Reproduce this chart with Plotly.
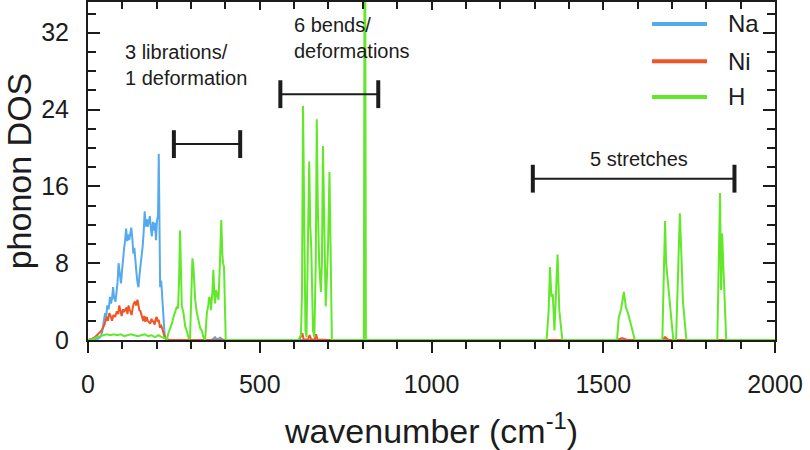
import plotly.graph_objects as go

# ---------------- data ----------------
na_x = [0, 20, 30, 38, 42, 46, 50, 53, 56, 60, 64, 67, 70, 73, 76, 80, 83, 86, 89, 92,
        96, 99, 102, 105, 108, 111, 114, 117, 120, 123, 126, 129, 132, 135, 138, 141, 144,
        147, 150, 153, 156, 159, 162, 165, 168, 171, 174, 177, 180, 183, 186, 189, 192, 195,
        198, 201, 204, 206, 208, 210, 213, 216, 218, 220, 223, 227, 235, 360, 370, 375, 385,
        392, 400, 2000]
na_y = [0, 0.05, 0.15, 0.4, 1.0, 2.0, 2.8, 2.4, 3.6, 3.2, 4.5, 3.8, 4.3, 5.5, 4.4, 4.0, 4.9,
        6.0, 8.0, 6.8, 5.9, 7.2, 8.7, 9.5, 10.4, 11.6, 10.3, 11.0, 10.4, 11.4, 11.7, 10.6, 9.0,
        9.6, 7.6, 7.0, 6.0, 5.5, 6.8, 7.6, 8.6, 9.7, 11.2, 13.4, 11.8, 12.6, 11.8, 12.5, 12.9,
        11.6, 10.8, 12.3, 11.4, 12.2, 10.4, 12.5, 13.0, 19.4, 12.0, 5.5, 6.2, 4.2, 3.0, 1.4,
        0.6, 0.1, 0, 0, 0.3, 0.05, 0.25, 0.05, 0, 0]

ni_x = [0, 10, 20, 30, 40, 48, 54, 58, 62, 66, 70, 74, 79, 84, 88, 91, 95, 98, 102, 105,
        108, 112, 115, 118, 121, 124, 127, 130, 133, 137, 140, 144, 147, 150, 152, 156, 159,
        161, 164, 167, 171, 174, 178, 181, 185, 188, 190, 194, 197, 200, 203, 206, 209, 213,
        216, 218, 221, 224, 228, 240, 615, 624, 628, 640, 645, 650, 660, 664, 668, 700,
        1540, 1555, 1570, 1670, 1680, 1690, 2000]
ni_y = [0, 0.1, 0.3, 0.6, 1.0, 1.6, 2.4, 2.0, 2.8, 2.5, 2.0, 2.6, 2.4, 3.0, 2.7, 3.6, 2.8,
        2.5, 3.2, 2.9, 3.1, 3.4, 2.7, 3.6, 3.2, 2.9, 2.6, 3.3, 3.8, 4.0, 3.6, 4.2, 3.4, 3.0,
        3.1, 2.4, 2.2, 2.0, 2.5, 1.9, 2.4, 2.0, 1.8, 1.7, 2.2, 1.9, 2.0, 1.6, 2.2, 2.4, 1.9,
        2.1, 1.4, 1.5, 1.2, 0.9, 0.5, 0.2, 0.05, 0, 0, 0.7, 0.05, 0.05, 0.5, 0.05, 0.05, 0.6,
        0.05, 0, 0, 0.2, 0, 0, 0.3, 0, 0]

h_x = [0, 15, 25, 35, 45, 55, 65, 75, 85, 95, 105, 115, 125, 135, 145, 155, 165, 175, 185,
       195, 205, 215, 225, 230, 234, 240, 244, 249, 254, 258, 262, 265, 268, 271, 273, 278,
       283, 288, 293, 297, 301, 304, 307, 312, 317, 322, 327, 331, 336, 341, 346, 350, 353,
       356, 358, 362, 365, 368, 370, 373, 377, 380, 384, 388, 391, 393, 396, 398, 401, 420,
       612, 620, 623, 626, 629, 633, 636, 639, 642, 644, 647, 650, 655, 659, 663, 666, 669,
       673, 678, 681, 684, 688, 692, 696, 699, 703, 706, 710,
       800, 803, 806, 809, 820,
       1335, 1341, 1345, 1349, 1353, 1358, 1362, 1367, 1372, 1381,
       1540, 1545, 1552, 1560, 1566, 1572, 1592,
       1672, 1677, 1680, 1683, 1692, 1704,
       1712, 1719, 1723, 1728, 1732, 1742,
       1832, 1840, 1843, 1846, 1858, 2000]
h_y = [0, 0.1, 0.3, 0.4, 0.5, 0.6, 0.5, 0.6, 0.5, 0.6, 0.4, 0.5, 0.6, 0.5, 0.4, 0.5, 0.6,
       0.4, 0.5, 0.3, 0.5, 0.3, 0.2, 0.1, 0.7, 1.2, 1.7, 2.4, 3.1, 3.4, 3.3, 6.0, 11.4, 5.0,
       3.6, 2.8, 1.4, 0.9, 0.2, 0.1, 4.0, 8.5, 7.6, 4.2, 2.8, 2.1, 1.2, 1.0, 0.3, 0.0, 2.8,
       3.6, 4.5, 4.2, 3.1, 5.0, 7.3, 4.5, 3.8, 5.2, 4.5, 4.2, 8.0, 12.5, 9.0, 8.0, 7.6, 4.0,
       0, 0,
       0, 0.5, 5.0, 24.4, 12.0, 1.0, 0.3, 6.0, 14.0, 18.6, 12.0, 9.5, 1.0, 0.3, 8.0, 23.0,
       14.0, 8.0, 5.0, 8.0, 20.2, 12.0, 3.5, 7.0, 10.0, 17.5, 8.0, 0,
       0, 0, 60.0, 0, 0,
       0, 3.0, 7.6, 4.5, 4.8, 1.0, 4.0, 8.9, 3.1, 0,
       0, 2.3, 3.2, 5.0, 3.4, 2.8, 0,
       0, 8.0, 12.4, 8.0, 4.2, 0,
       0, 9.0, 13.2, 8.3, 4.0, 0,
       0, 15.3, 5.2, 11.1, 0, 0]

series = [("Na", na_x, na_y, "#55AAEE"),
          ("Ni", ni_x, ni_y, "#F05522"),
          ("H", h_x, h_y, "#62E82A")]

# bracket annotations: (x start, x end, y level, label, label x, label y)
brackets = [(250, 443, 20.4, "3 librations/<br>1 deformation", 102, 28.6),
            (560, 845, 25.6, "6 bends/<br>deformations", 594, 31.5),
            (1295, 1882, 16.8, "5 stretches", 1456, 18.8)]

FONT = "Liberation Sans, Arial, sans-serif"
INK = "#1c1c1c"

fig = go.Figure()
for name, xs, ys, col in series:
    fig.add_trace(go.Scatter(x=xs, y=ys, mode="lines", name=name,
                             line=dict(color=col, width=2), showlegend=False))
# helper trace for the top axis
fig.add_trace(go.Scatter(x=[0, 2000], y=[-10, -10], xaxis="x2", mode="lines",
                         line=dict(width=0), showlegend=False, hoverinfo="skip"))

shapes = []
annotations = []
for x0, x1, yv, label, lx, ly in brackets:
    shapes.append(dict(type="line", xref="x", yref="y", x0=x0, x1=x1, y0=yv, y1=yv,
                       line=dict(color=INK, width=2)))
    for xc in (x0, x1):
        shapes.append(dict(type="line", xref="x", yref="y", x0=xc, x1=xc,
                           y0=yv - 1.45, y1=yv + 1.45, line=dict(color=INK, width=4)))
    annotations.append(dict(x=lx, y=ly, xref="x", yref="y", text=label, showarrow=False,
                            xanchor="left", yanchor="middle", align="left",
                            font=dict(family=FONT, size=20, color=INK)))

# legend drawn from the series list
leg_rows = [0.935, 0.825, 0.719]
for (name, xs, ys, col), ry in zip(series, leg_rows):
    shapes.append(dict(type="line", xref="paper", yref="paper", x0=0.821, x1=0.901,
                       y0=ry, y1=ry, line=dict(color=col, width=4)))
    annotations.append(dict(x=0.928, y=ry, xref="paper", yref="paper", text=name,
                            showarrow=False, xanchor="left", yanchor="middle",
                            font=dict(family=FONT, size=24, color=INK)))

fig.update_layout(
    width=810, height=450, autosize=False,
    margin=dict(l=88, r=35, t=2, b=110),
    paper_bgcolor="white", plot_bgcolor="white",
    font=dict(family=FONT, color=INK),
    shapes=shapes, annotations=annotations,
    hovermode=False,
    xaxis=dict(range=[0, 2000], dtick=500, tick0=0, showgrid=False, zeroline=False,
               showline=True, linewidth=2, linecolor=INK,
               ticks="outside", ticklen=11, tickwidth=2, tickcolor=INK,
               ticklabelstandoff=10,
               minor=dict(dtick=100, ticks="outside", ticklen=7, tickwidth=2, tickcolor=INK,
                          showgrid=False),
               tickfont=dict(size=25, family=FONT, color=INK),
               title=dict(text="wavenumber (cm<sup>-1</sup>)", standoff=24,
                          font=dict(size=34, family=FONT, color=INK))),
    xaxis2=dict(overlaying="x", side="top", range=[0, 2000], dtick=500, tick0=0,
                showgrid=False, zeroline=False, showline=True, linewidth=2, linecolor=INK,
                ticks="inside", ticklen=8, tickwidth=2, tickcolor=INK,
                showticklabels=False,
                minor=dict(dtick=100, ticks="inside", ticklen=7, tickwidth=2, tickcolor=INK,
                           showgrid=False)),
    yaxis=dict(range=[0, 35.2], dtick=8, tick0=0, showgrid=False, zeroline=False,
               showline=True, linewidth=2, linecolor=INK, mirror="ticks",
               ticks="inside", ticklen=12, tickwidth=2, tickcolor=INK,
               ticklabelstandoff=12,
               minor=dict(dtick=2, ticks="inside", ticklen=8, tickwidth=2, tickcolor=INK,
                          showgrid=False),
               tickfont=dict(size=25, family=FONT, color=INK),
               title=dict(text="phonon DOS", standoff=14,
                          font=dict(size=34, family=FONT, color=INK))),
)

fig.write_html("out.html", config={"displayModeBar": False, "staticPlot": True},
               post_script="document.body.style.margin='0';document.body.style.padding='0';")
